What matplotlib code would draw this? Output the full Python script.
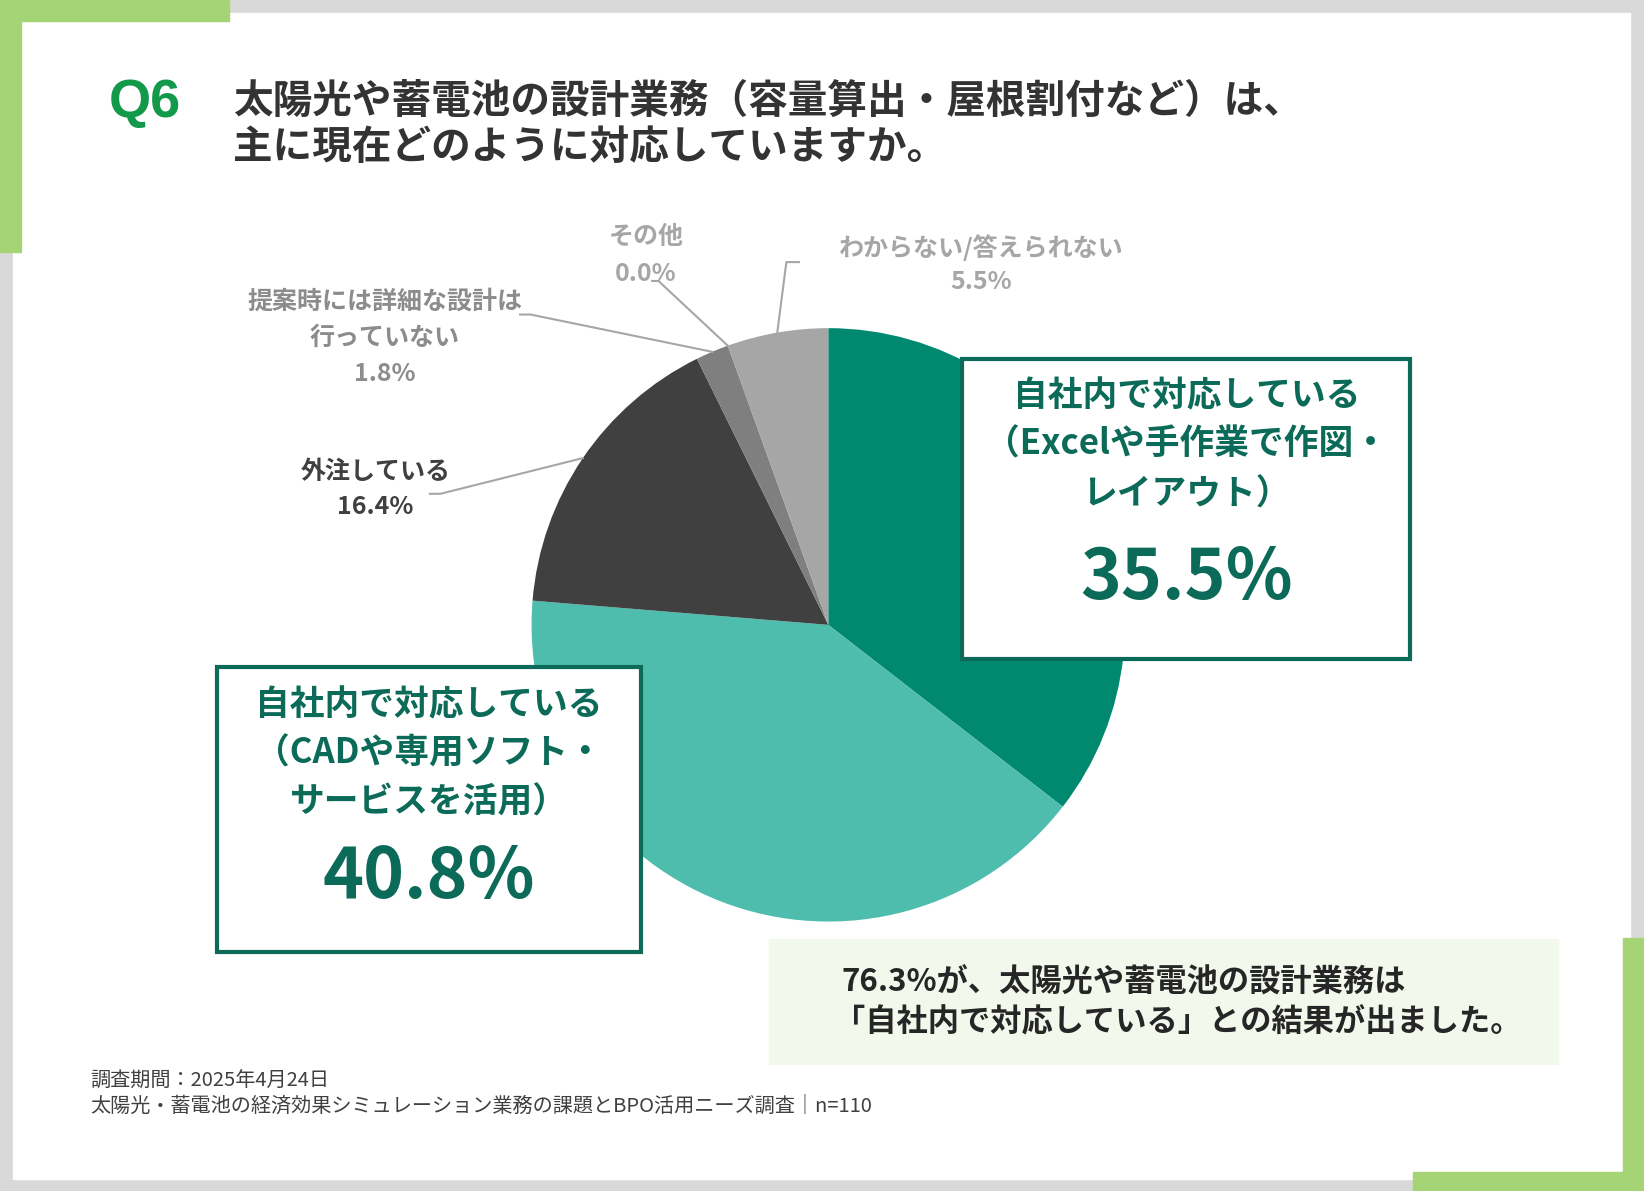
import matplotlib
matplotlib.use('Agg')
import matplotlib.pyplot as plt
import matplotlib.patches as mpatches
import numpy as np

plt.rcParams['font.family'] = ['Noto Sans CJK JP', 'DejaVu Sans']

# data
labels = ['自社内で対応している（Excelや手作業で作図・レイアウト）',
          '自社内で対応している（CADや専用ソフト・サービスを活用）',
          '外注している',
          '提案時には詳細な設計は行っていない',
          'その他',
          'わからない/答えられない']
values = [35.5, 40.8, 16.4, 1.8, 0.0, 5.5]
colors = ['#00896f', '#4fbdae', '#404040', '#7f7f7f', '#bfbfbf', '#a6a6a6']

title_lines = ['太陽光や蓄電池の設計業務（容量算出・屋根割付など）は、',
               '主に現在どのように対応していますか。']
note_lines = ['76.3%が、太陽光や蓄電池の設計業務は',
              '「自社内で対応している」との結果が出ました。']
source_lines = ['調査期間：2025年4月24日',
                '太陽光・蓄電池の経済効果シミュレーション業務の課題とBPO活用ニーズ調査｜n=110']

W, H = 1568, 1136
def Y(y):
    return H - y

fig = plt.figure(figsize=(16.44, 11.91), dpi=100)
fig.patch.set_facecolor('#d9d9d9')
ax = fig.add_axes([0, 0, 1, 1])

# panel and green accents
ax.add_patch(mpatches.Rectangle((12, Y(1125)), 1543, 1113, color='white', zorder=0))
green = '#a5d477'
ax.add_patch(mpatches.Rectangle((0, Y(20)), 218, 20, color=green, zorder=1))
ax.add_patch(mpatches.Rectangle((0, Y(240)), 20, 240, color=green, zorder=1))
ax.add_patch(mpatches.Rectangle((1548, Y(1136)), 20, 241, color=green, zorder=1))
ax.add_patch(mpatches.Rectangle((1348, Y(1136)), 220, 18, color=green, zorder=1))

# title
ax.text(104, Y(98), 'Q6', fontsize=39, fontweight='bold', color='#13994a',
        family=['Liberation Sans', 'DejaVu Sans'], va='center', ha='left')
for i, line in enumerate(title_lines):
    ax.text(222, Y(97 + 44 * i), line, fontsize=28.5, fontweight='bold',
            color='#333333', va='center', ha='left')

# pie
cx, cy, r = 790, Y(596), 283
wedges, _ = ax.pie(values, colors=colors, startangle=90, counterclock=False,
                   center=(cx, cy), radius=r, wedgeprops=dict(linewidth=0))
for w in wedges:
    w.set_zorder(2)

# mid angles for leader lines
angles = []
start = 90.0
for v in values:
    span = v / sum(values) * 360
    angles.append(start - span / 2)
    start -= span

def edge_pt(i):
    a = np.deg2rad(angles[i])
    return cx + r * np.cos(a), cy + r * np.sin(a)

line_kw = dict(color='#a6a6a6', lw=1.5, zorder=3)
# わからない
px, py = edge_pt(5)
ax.plot([px, 750, 762], [py, Y(250), Y(250)], **line_kw)
# その他
px, py = edge_pt(4)
ax.plot([px, 628, 622], [py, Y(268), Y(268)], **line_kw)
# 提案時
px, py = edge_pt(3)
ax.plot([px, 506, 496], [py, Y(300), Y(300)], **line_kw)
# 外注
px, py = edge_pt(2)
ax.plot([px, 420, 410], [py, Y(471), Y(471)], **line_kw)

lab_kw = dict(fontsize=18, fontweight='bold', ha='center', va='center')
ax.text(936, Y(236), labels[5], color='#a6a6a6', **lab_kw)
ax.text(936, Y(269), f'{values[5]:.1f}%', color='#a6a6a6', **lab_kw)
ax.text(616, Y(226), labels[4], color='#a6a6a6', **lab_kw)
ax.text(616, Y(261), f'{values[4]:.1f}%', color='#a6a6a6', **lab_kw)
ax.text(367, Y(288), '提案時には詳細な設計は', color='#8c8c8c', **lab_kw)
ax.text(367, Y(322), '行っていない', color='#8c8c8c', **lab_kw)
ax.text(367, Y(357), f'{values[3]:.1f}%', color='#8c8c8c', **lab_kw)
ax.text(358, Y(450), labels[2], color='#404040', **lab_kw)
ax.text(358, Y(484), f'{values[2]:.1f}%', color='#404040', **lab_kw)

# callout boxes
box_c = '#0b6b58'
def callout(x0, y0, x1, y1, lines, value, ys, yv):
    ax.add_patch(mpatches.Rectangle((x0, Y(y1)), x1 - x0, y1 - y0, facecolor='white',
                                    edgecolor=box_c, lw=3, zorder=4))
    xc = (x0 + x1) / 2
    for t, yy in zip(lines, ys):
        ax.text(xc, Y(yy), t, fontsize=25, fontweight='bold', color=box_c,
                ha='center', va='center', zorder=5)
    ax.text(xc, Y(yv), f'{value:.1f}%', fontsize=50, fontweight='bold', color=box_c,
            ha='center', va='center', zorder=5)

callout(918, 342, 1345, 629, ['自社内で対応している', '（Excelや手作業で作図・', 'レイアウト）'],
        values[0], [378, 424, 471], 552)
callout(207, 636, 611, 908, ['自社内で対応している', '（CADや専用ソフト・', 'サービスを活用）'],
        values[1], [672, 718, 765], 837)

# summary box
ax.add_patch(mpatches.Rectangle((733, Y(1015)), 753, 119, color='#f3f8ec', zorder=1))
ax.text(803, Y(937), note_lines[0], fontsize=22.5, fontweight='bold', color='#262626',
        ha='left', va='center')
ax.text(795, Y(975), note_lines[1], fontsize=22.5, fontweight='bold', color='#262626',
        ha='left', va='center')

# source
for i, line in enumerate(source_lines):
    ax.text(86, Y(1031 + 24 * i), line, fontsize=14.5, color='#404040', ha='left', va='center')

ax.set_xlim(0, W)
ax.set_ylim(0, H)
ax.set_aspect('auto')
ax.axis('off')

fig.savefig('out.png', dpi=100, facecolor=fig.get_facecolor())
